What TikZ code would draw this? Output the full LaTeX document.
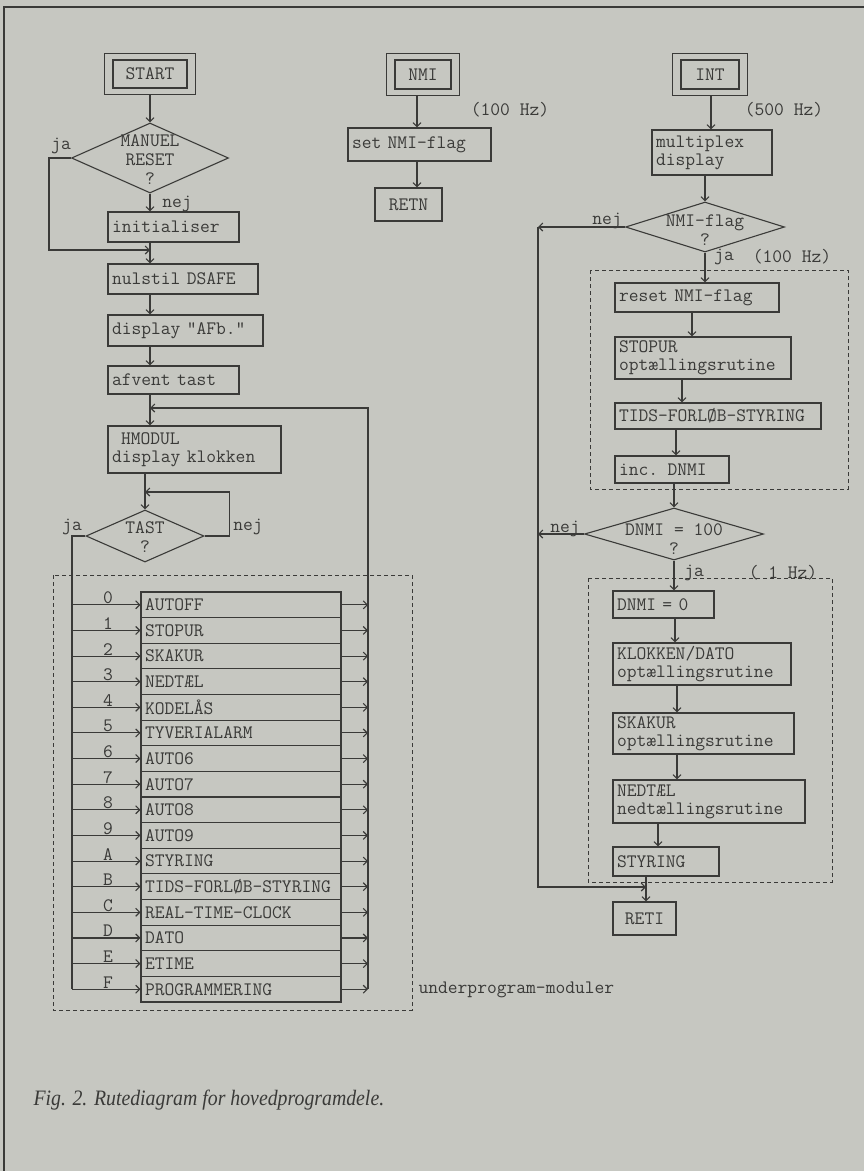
\documentclass[tikz,border=0pt]{standalone}
\usepackage{fontspec}
\newfontfamily\capfont[FakeStretch=0.9]{Liberation Serif}
\usetikzlibrary{arrows.meta,shapes.geometric,fit}
\definecolor{bg}{RGB}{198,199,193}
\definecolor{ink}{RGB}{58,58,56}
\newcommand\boxfont{\fontsize{19}{18}\selectfont\ttfamily}
\newcommand\diafont{\fontsize{19}{19}\selectfont\ttfamily}
\newcommand\bx[7][]{%
  \pgfmathsetmacro\bxh{#6-#4}\pgfmathsetmacro\bxtw{#5-#3-8}%
  \node[box,text width=\bxtw pt,minimum height=\bxh pt,#1] (#2) at ({(#3+#5)/2},{(#4+#6)/2}) {#7};}
\begin{document}
\begin{tikzpicture}[x=1pt,y=-1pt,color=ink,line width=1.1pt,
  box/.style={draw,rectangle,inner xsep=4pt,inner ysep=0pt,align=left,font=\boxfont},
  lbl/.style={inner sep=0pt,font=\boxfont},
  dia/.style={draw,diamond,inner sep=0pt},
  arr/.style={-{Straight Barb[length=4pt,width=8pt]}},
  dbox/.style={draw,dash pattern=on 4pt off 3pt,line width=0.8pt},
  outer/.style={draw,inner xsep=8pt,inner ysep=6pt}]
\fill[bg] (0,0) rectangle (864,1171);
\useasboundingbox (0,0) rectangle (864,1171);
\draw[line width=2pt] (4,1171) -- (4,7) -- (864,7);

% dashed groups
\draw[dbox] (53,575) rectangle (412,1010);
\draw[dbox] (590,270) rectangle (848,489);
\draw[dbox] (588,578) rectangle (832,882);

% ---------- left column ----------
\bx[align=center]{start}{113}{60}{187}{88}{START}
\node[outer,fit=(start)] (startO) {};
\node[dia,minimum width=157pt,minimum height=70pt] (man) at (150,158) {};
\node[lbl,align=center,font=\diafont] (manT) at (150,160) {MANUEL\\RESET\\?};
\bx{init}{108}{212}{239}{242}{initialiser}
\bx{nul}{108}{264}{258}{294}{nulstil DSAFE}
\bx{disp}{108}{315}{263}{346}{display "AFb."}
\bx{afv}{108}{366}{239}{394}{afvent tast}
\bx{hm}{108}{426}{281}{473}{\hspace*{9pt}HMODUL\\display klokken}
\node[dia,minimum width=118pt,minimum height=52pt] (tast) at (145,536) {};
\node[lbl,align=center,font=\diafont] (tastT) at (145,537) {TAST\\?};

\node[lbl] (ja1) at (61,146) {ja};
\node[lbl] (nej1) at (177,204) {nej};
\node[lbl] (ja2) at (72,527) {ja};
\node[lbl] (nej2) at (248,527) {nej};

\coordinate (jaJ) at (150,250);
\coordinate (hmJ) at (150,408);
\coordinate (busR) at (368,408);
\coordinate (tastJ) at (145,492);
\coordinate (busL) at (72,536);

\draw[arr] (startO.south) -- (man.north);
\draw[arr] (man.south) -- (man.south |- init.north);
\draw[arr] (man.west) -- ++(-22,0) |- (jaJ);
\draw[arr] (init.south -| jaJ) -- (nul.north -| jaJ);
\draw[arr] (nul.south -| jaJ) -- (disp.north -| jaJ);
\draw[arr] (disp.south -| jaJ) -- (afv.north -| jaJ);
\draw[arr] (afv.south -| jaJ) -- (hm.north -| jaJ);
\draw[arr] (hm.south -| tast.north) -- (tast.north);
\draw[arr] (tast.east) -- ++(25,0) |- (tastJ);

% table
\foreach \i/\d/\t in {0/0/AUTOFF,1/1/STOPUR,2/2/SKAKUR,3/3/NEDTÆL,4/4/KODELÅS,
  5/5/TYVERIALARM,6/6/AUTO6,7/7/AUTO7,8/8/AUTO8,9/9/AUTO9,10/A/STYRING,
  11/B/TIDS-FORLØB-STYRING,12/C/REAL-TIME-CLOCK,13/D/DATO,14/E/ETIME,15/F/PROGRAMMERING}{
  \pgfmathsetmacro\yc{592+25.625*(\i+0.5)}
  \node[box,text width=192pt,minimum height=25.625pt] (r\i) at (241,\yc) {\t};
  \node[lbl,anchor=base] (k\i) at (108,\yc-1) {\d};
  \draw[arr] (r\i.west -| busL) -- (r\i.west);
  \draw[arr] (r\i.east) -- (r\i.east -| busR);
}
\draw (tast.west) -- (busL) -- (r15.west -| busL);
\draw[arr] (r15.east -| busR) -- (busR) -- (hmJ);
\node[lbl,anchor=west] (und) at (418,990) {underprogram-moduler};

% ---------- middle column ----------
\bx[align=center]{nmi}{395}{60}{451}{89}{NMI}
\node[outer,fit=(nmi)] (nmiO) {};
\bx{set}{348}{128}{491}{161}{set NMI-flag}
\bx[align=center]{retn}{375}{188}{442}{221}{RETN}
\node[lbl] (hz1) at (510,110) {(100 Hz)};
\coordinate (nx) at (417,0);
\draw[arr] (nmiO.south -| nx) -- (set.north -| nx);
\draw[arr] (set.south -| nx) -- (retn.north -| nx);

% ---------- right column ----------
\bx[align=center]{int}{681}{60}{739}{89}{INT}
\node[outer,fit=(int)] (intO) {};
\node[lbl] (hz2) at (784,110) {(500 Hz)};
\bx{mux}{652}{130}{772}{175}{multiplex\\display}
\node[dia,minimum width=159pt,minimum height=50pt] (nmif) at (705,227) {};
\node[lbl,align=center,font=\diafont] (nmifT) at (705,230) {NMI-flag\\?};
\node[lbl] (nej3) at (607,221) {nej};
\node[lbl] (ja3) at (724,257) {ja};
\node[lbl] (hz3) at (792,257) {(100 Hz)};
\bx{reset}{615}{283}{779}{312}{reset NMI-flag}
\bx{stop}{615}{337}{791}{379}{STOPUR\\optællingsrutine}
\bx{tids}{615}{403}{821}{429}{TIDS-FORLØB-STYRING}
\bx{inc}{615}{456}{729}{483}{inc. DNMI}
\node[dia,minimum width=179pt,minimum height=52pt] (dnmi) at (674,534) {};
\node[lbl,align=center,font=\diafont] (dnmiT) at (674,539) {DNMI = 100\\?};
\node[lbl] (nej4) at (565,529) {nej};
\node[lbl] (ja4) at (694,573) {ja};
\node[lbl] (hz4) at (783,573) {( 1 Hz)};
\bx{d0}{613}{591}{714}{618}{DNMI = 0}
\bx{klok}{613}{643}{791}{685}{KLOKKEN/DATO\\optællingsrutine}
\bx{skak}{613}{713}{794}{754}{SKAKUR\\optællingsrutine}
\bx{ned}{613}{780}{805}{823}{NEDTÆL\\nedtællingsrutine}
\bx{sty}{613}{847}{719}{876}{STYRING}
\bx[align=center]{reti}{613}{902}{676}{935}{RETI}

\coordinate (ix) at (711,0);
\coordinate (x1) at (692,0);
\coordinate (x2) at (682,0);
\coordinate (x3) at (676,0);
\coordinate (x4) at (675,0);
\coordinate (x5) at (677,0);
\coordinate (x6) at (658,0);
\coordinate (x7) at (646,0);
\coordinate (lc1) at (538,227);
\coordinate (lc2) at (538,887);
\coordinate (retJ) at (646,887);

\draw[arr] (intO.south -| ix) -- (mux.north -| ix);
\draw[arr] (mux.south -| nmif.north) -- (nmif.north);
\draw[arr] (nmif.south) -- (nmif.south |- reset.north);
\draw[arr] (reset.south -| x1) -- (stop.north -| x1);
\draw[arr] (stop.south -| x2) -- (tids.north -| x2);
\draw[arr] (tids.south -| x3) -- (inc.north -| x3);
\draw[arr] (inc.south -| dnmi.north) -- (dnmi.north);
\draw[arr] (dnmi.south) -- (dnmi.south |- d0.north);
\draw[arr] (d0.south -| x4) -- (klok.north -| x4);
\draw[arr] (klok.south -| x5) -- (skak.north -| x5);
\draw[arr] (skak.south -| x5) -- (ned.north -| x5);
\draw[arr] (ned.south -| x6) -- (sty.north -| x6);
\draw[arr] (sty.south -| x7) -- (reti.north -| x7);
\draw[arr] (nmif.west) -- (lc1);
\draw[arr] (lc1) -- (lc2) -- (retJ);
\draw[arr] (dnmi.west) -- (dnmi.west -| lc1);

% caption
\node[anchor=west,inner sep=0pt,font=\capfont\itshape\fontsize{22}{26}\selectfont] (cap) at (33,1100) {Fig. 2. Rutediagram for hovedprogramdele.};
\end{tikzpicture}
\end{document}
